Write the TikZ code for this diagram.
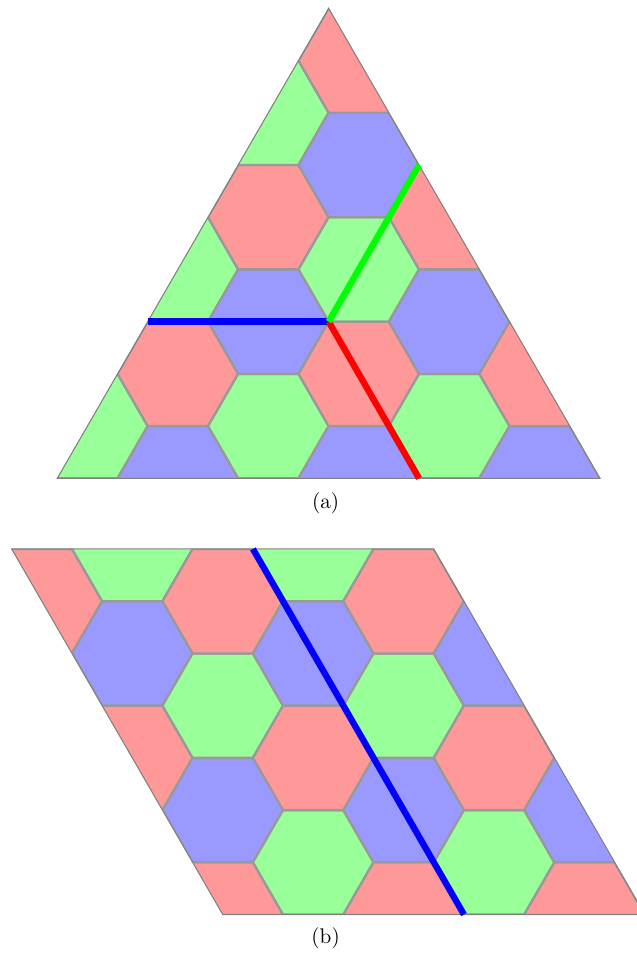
\documentclass[tikz,border=0pt]{standalone}
\usetikzlibrary{calc}
\colorlet{hexred}{red!40}
\colorlet{hexgreen}{green!40}
\colorlet{hexblue}{blue!40}
% colour order of the two tilings
\colorlet{tri0}{hexred}
\colorlet{tri1}{hexblue}
\colorlet{tri2}{hexgreen}
\colorlet{rho0}{hexgreen}
\colorlet{rho1}{hexblue}
\colorlet{rho2}{hexred}

\begin{document}
\begin{tikzpicture}[
  hexcell/.style={draw=black!40, line width=1.1pt},
  frame/.style={draw=gray, line width=0.5pt},
  cut/.style={line width=3pt},
  caption/.style={font=\normalsize}
]
  \useasboundingbox (-0.95,-7.889) rectangle (9.614,7.932);

  % (a) triangle
  \coordinate (tA) at (0,0);
  \coordinate (tB) at (9,0);
  \coordinate (tC) at (4.5,7.7942);
  \coordinate (tO) at (4.5,2.5981);
  \coordinate (tL) at (1.5,2.5981);
  \coordinate (tU) at (6,5.1962);
  \coordinate (tD) at (6,0);
  \begin{scope}
    \clip (tA) -- (tB) -- (tC) -- cycle;
    \foreach \a in {-2,...,5}
      \foreach \b in {-4,...,5}{
        \pgfmathtruncatemacro\k{mod(mod(\a-\b,3)+3,3)}
        \pgfmathsetmacro\cx{2+1.5*\a}
        \pgfmathsetmacro\cy{1.7321+0.8660*\a+1.7321*\b}
        \draw[hexcell, fill=tri\k, shift={(\cx,\cy)}]
          (0:1) -- (60:1) -- (120:1) -- (180:1) -- (240:1) -- (300:1) -- cycle;
      }
  \end{scope}
  \draw[frame] (tA) -- (tB) -- (tC) -- cycle;
  \draw[cut, blue] (tL) -- (tO);
  \draw[cut, red] (tO) -- (tD);
  \draw[cut, green] (tO) -- (tU);
  \node[caption] (capA) at (4.45,-0.41) {(a)};

  % (b) rhombus
  \coordinate (rA) at (-0.756,-1.172);
  \coordinate (rB) at ($(rA)+(7,0)$);
  \coordinate (rC) at ($(rA)+(10.5,-6.0622)$);
  \coordinate (rD) at ($(rA)+(3.5,-6.0622)$);
  \coordinate (rP) at ($(rA)+(4,0)$);
  \coordinate (rQ) at ($(rA)+(7.5,-6.0622)$);
  \begin{scope}
    \clip (rA) -- (rB) -- (rC) -- (rD) -- cycle;
    \foreach \a in {-2,...,7}
      \foreach \b in {-8,...,2}{
        \pgfmathtruncatemacro\k{mod(mod(\a-\b,3)+3,3)}
        \pgfmathsetmacro\cx{1.244+1.5*\a}
        \pgfmathsetmacro\cy{-1.172+0.8660*\a+1.7321*\b}
        \draw[hexcell, fill=rho\k, shift={(\cx,\cy)}]
          (0:1) -- (60:1) -- (120:1) -- (180:1) -- (240:1) -- (300:1) -- cycle;
      }
  \end{scope}
  \draw[frame] (rA) -- (rB) -- (rC) -- (rD) -- cycle;
  \draw[cut, blue] (rP) -- (rQ);
  \node[caption] (capB) at (4.45,-7.624) {(b)};
\end{tikzpicture}
\end{document}
